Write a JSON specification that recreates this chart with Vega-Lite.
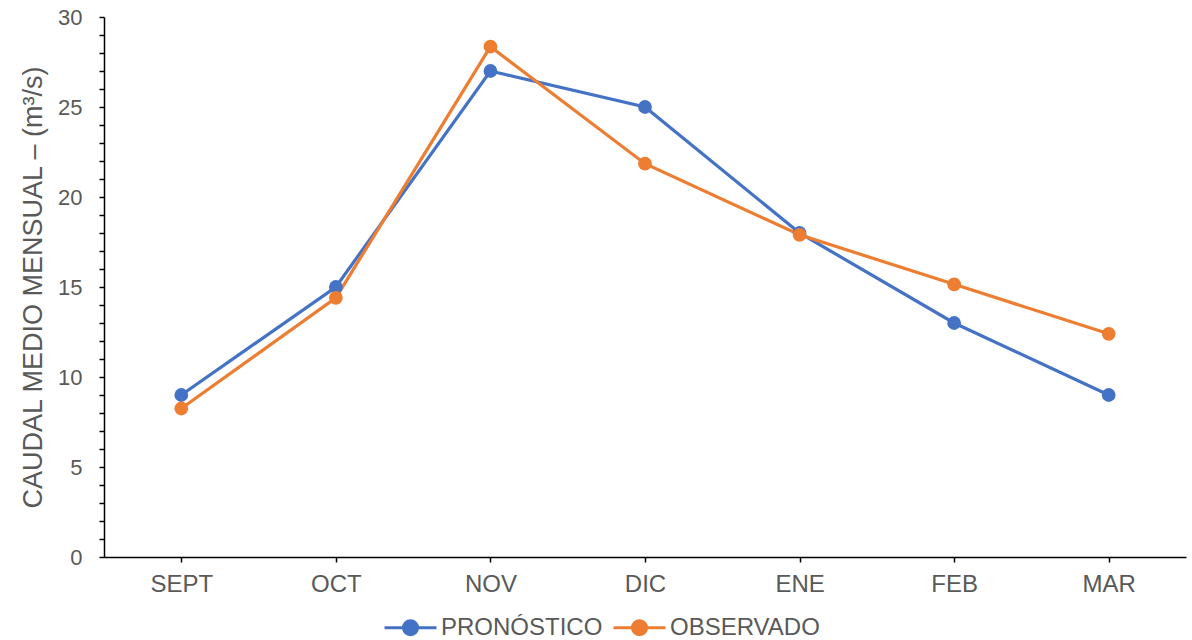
{
  "$schema": "https://vega.github.io/schema/vega-lite/v6.json",
  "width": 1082,
  "height": 540,
  "autosize": {"type": "none"},
  "padding": {"left": 104, "top": 17, "right": 6, "bottom": 83},
  "background": "white",
  "config": {
    "view": {"stroke": null},
    "font": "Liberation Sans"
  },
  "data": {
    "values": [
      {"mes": "SEPT", "serie": "PRONÓSTICO", "caudal": 9.0},
      {"mes": "OCT", "serie": "PRONÓSTICO", "caudal": 15.0},
      {"mes": "NOV", "serie": "PRONÓSTICO", "caudal": 27.0},
      {"mes": "DIC", "serie": "PRONÓSTICO", "caudal": 25.0},
      {"mes": "ENE", "serie": "PRONÓSTICO", "caudal": 18.0},
      {"mes": "FEB", "serie": "PRONÓSTICO", "caudal": 13.0},
      {"mes": "MAR", "serie": "PRONÓSTICO", "caudal": 9.0},
      {"mes": "SEPT", "serie": "OBSERVADO", "caudal": 8.25},
      {"mes": "OCT", "serie": "OBSERVADO", "caudal": 14.4},
      {"mes": "NOV", "serie": "OBSERVADO", "caudal": 28.35},
      {"mes": "DIC", "serie": "OBSERVADO", "caudal": 21.85},
      {"mes": "ENE", "serie": "OBSERVADO", "caudal": 17.9},
      {"mes": "FEB", "serie": "OBSERVADO", "caudal": 15.15},
      {"mes": "MAR", "serie": "OBSERVADO", "caudal": 12.4}
    ]
  },
  "mark": {
    "type": "line",
    "strokeWidth": 3.2,
    "point": {"filled": true, "size": 190, "opacity": 1}
  },
  "encoding": {
    "x": {
      "field": "mes",
      "type": "nominal",
      "sort": ["SEPT", "OCT", "NOV", "DIC", "ENE", "FEB", "MAR"],
      "scale": {"paddingInner": 0, "paddingOuter": 0.5},
      "axis": {
        "title": null,
        "labelAngle": 0,
        "labelFont": "Liberation Sans",
        "labelFontSize": 24,
        "labelColor": "#595959",
        "labelPadding": 10,
        "domainColor": "black",
        "domainWidth": 1.5,
        "tickColor": "black",
        "tickWidth": 1.5,
        "tickSize": 5,
        "grid": false
      }
    },
    "y": {
      "field": "caudal",
      "type": "quantitative",
      "scale": {"domain": [0, 30], "nice": false, "zero": true},
      "axis": {
        "title": "CAUDAL MEDIO MENSUAL – (m³/s)",
        "titleFont": "Liberation Sans",
        "titleFontSize": 27,
        "titleFontWeight": "normal",
        "titleColor": "#595959",
        "titlePadding": 10,
        "values": [0,1,2,3,4,5,6,7,8,9,10,11,12,13,14,15,16,17,18,19,20,21,22,23,24,25,26,27,28,29,30],
        "labelExpr": "datum.value % 5 == 0 ? datum.label : ''",
        "labelFont": "Liberation Sans",
        "labelFontSize": 22,
        "labelColor": "#595959",
        "labelPadding": 17,
        "labelOverlap": false,
        "domainColor": "black",
        "domainWidth": 1.5,
        "tickColor": "black",
        "tickWidth": 1.5,
        "tickSize": 5,
        "grid": false
      }
    },
    "color": {
      "field": "serie",
      "type": "nominal",
      "sort": ["PRONÓSTICO", "OBSERVADO"],
      "scale": {"domain": ["PRONÓSTICO", "OBSERVADO"], "range": ["#4472C4", "#ED7D31"]},
      "legend": {
        "title": null,
        "orient": "none",
        "legendX": 279,
        "legendY": 583,
        "padding": 0,
        "direction": "horizontal",
        "symbolType": "M-1,0L-0.27,0M0.27,0L1,0M-0.27,0A0.27,0.27 0 1,1 0.27,0A0.27,0.27 0 1,1 -0.27,0Z",
        "symbolSize": 2704,
        "symbolStrokeWidth": 3,
        "labelFont": "Liberation Sans",
        "labelFontSize": 24,
        "labelColor": "#595959",
        "labelLimit": 0,
        "labelOffset": 3,
        "columnPadding": 4,
        "encode": {
          "symbols": {
            "update": {
              "shape": {"value": "M-1,0L-0.27,0M0.27,0L1,0M-0.27,0A0.27,0.27 0 1,1 0.27,0A0.27,0.27 0 1,1 -0.27,0Z"},
              "size": {"value": 2704},
              "strokeWidth": {"value": 3},
              "fill": {"scale": "color", "field": "value"},
              "stroke": {"scale": "color", "field": "value"},
              "fillOpacity": {"value": 1},
              "strokeOpacity": {"value": 1},
              "opacity": {"value": 1}
            }
          }
        }
      }
    }
  }
}
